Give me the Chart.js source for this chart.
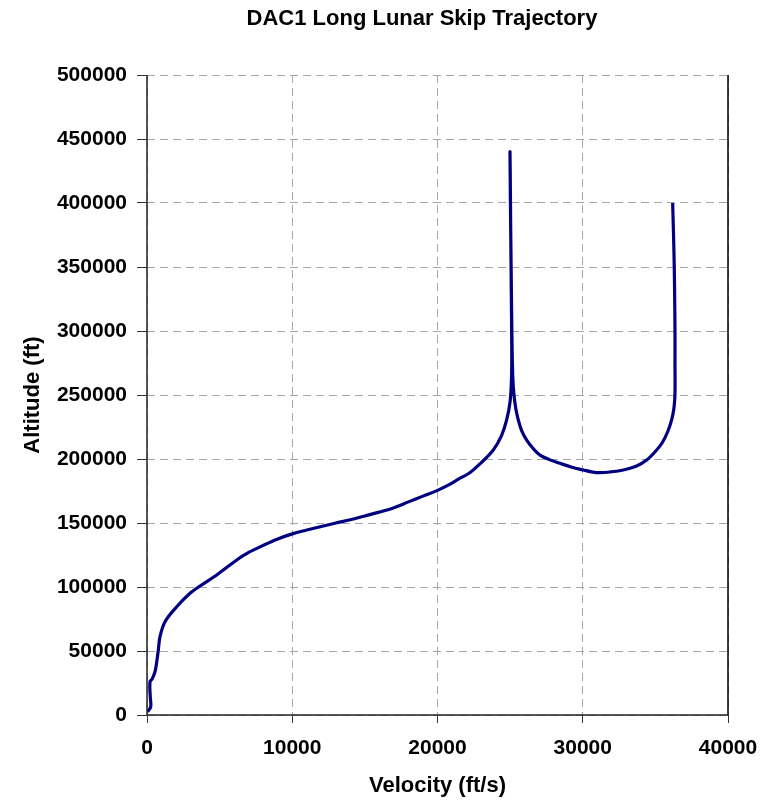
<!DOCTYPE html>
<html>
<head>
<meta charset="utf-8">
<title>DAC1 Long Lunar Skip Trajectory</title>
<script src="https://cdn.jsdelivr.net/npm/chart.js@4/dist/chart.umd.min.js"></script>
<style>
  html, body { margin: 0; padding: 0; background: #fff; }
  #wrap { width: 768px; height: 800px; position: relative; }
</style>
</head>
<body>
<div id="wrap"><canvas id="trajChart"></canvas></div>
<script>
// trajectory, entry (top right) to landing (origin)
const velocity = [
  36190, 36250, 36300, 36330, 36350, 36350, 36350, 36280, 36120, 35840,
  35460, 34970, 34400, 33710, 32790, 31900, 31190, 30600, 30040, 29200,
  28430, 27700, 27060, 26600, 26140, 25800, 25560, 25380, 25250, 25180,
  25120, 25070, 25020, 24990,
  25010, 25040, 25080, 25110, 25100, 25000, 24760, 24400, 23840, 23000,
  22200, 21550, 20800, 20000, 19000, 18000, 17000, 16000, 15000, 14000,
  13000, 12000, 11000, 10000, 9000, 8000, 7000, 6175, 4800, 3650,
  2960, 2045, 1240, 895, 780, 650, 550, 350, 207, 220,
  255, 40
];
const altitude = [
  400000, 375000, 350000, 325000, 300000, 275000, 251000, 239800, 230500, 221100,
  212500, 205500, 199200, 194500, 191400, 189900, 189300, 190000, 191400, 193800,
  196600, 199500, 203000, 208000, 214800, 222000, 230500, 240000, 252000, 265000,
  300000, 350000, 400000, 440000,
  420000, 380000, 330000, 290000, 265000, 245000, 230500, 218000, 207000, 197000,
  189000, 185000, 180000, 175500, 171000, 166500, 162000, 158500, 155500, 152500,
  150000, 147300, 144500, 141500, 137500, 132500, 127000, 121100, 109400, 100800,
  95100, 84600, 72900, 61200, 50800, 40000, 33800, 28000, 26000, 15000,
  6500, 2500
];

const chartTitle = "DAC1 Long Lunar Skip Trajectory";
const xTitle = "Velocity (ft/s)";
const yTitle = "Altitude (ft)";

const fontFamily = "'Liberation Sans', Arial, sans-serif";

// axis lines, the solid right edge of the plot and the title
const framePlugin = {
  id: "frame",
  afterDraw(chart) {
    const { ctx, chartArea } = chart;
    ctx.save();
    ctx.setLineDash([]);
    ctx.strokeStyle = "#222";
    ctx.lineWidth = 1.5;
    ctx.beginPath();
    ctx.moveTo(chartArea.left, chartArea.top);
    ctx.lineTo(chartArea.left, chartArea.bottom);
    ctx.lineTo(chartArea.right, chartArea.bottom);
    ctx.stroke();

    ctx.strokeStyle = "#000";
    ctx.beginPath();
    ctx.moveTo(chartArea.right, chartArea.top);
    ctx.lineTo(chartArea.right, chartArea.bottom);
    ctx.stroke();

    ctx.fillStyle = "#000";
    ctx.font = "bold 22px " + fontFamily;
    ctx.textAlign = "center";
    ctx.textBaseline = "middle";
    ctx.fillText(chartTitle, 422, 19);
    ctx.restore();
  },
};

const ctx = document.getElementById("trajChart").getContext("2d");
new Chart(ctx, {
  type: "scatter",
  data: {
    datasets: [
      {
        label: "Trajectory",
        data: velocity.map((v, i) => ({ x: v, y: altitude[i] })),
        showLine: true,
        borderColor: "#000080",
        borderWidth: 3.2,
        pointRadius: 0,
        tension: 0.35,
        fill: false,
      },
    ],
  },
  options: {
    responsive: true,
    maintainAspectRatio: false,
    animation: false,
    layout: { padding: { top: 75, right: 40, bottom: 0, left: 0 } },
    plugins: {
      legend: { display: false },
      tooltip: { enabled: false },
      title: { display: false },
    },
    scales: {
      x: {
        type: "linear",
        min: 0,
        max: 40000,
        afterFit: (scale) => {
          scale.height = 85;
          scale.paddingLeft = 0;
          scale.paddingRight = 0;
        },
        ticks: {
          stepSize: 10000,
          padding: 13,
          color: "#000",
          font: { family: fontFamily, size: 21, weight: "bold" },
          callback: (v) => String(v),
          maxRotation: 0,
        },
        grid: {
          color: "#a6a6a6",
          lineWidth: 1,
          tickLength: 8,
          tickColor: "#333",
          tickBorderDash: [],
        },
        border: { display: false, dash: [8, 5] },
        title: {
          display: true,
          text: xTitle,
          color: "#000",
          font: { family: fontFamily, size: 22, weight: "bold" },
          padding: { top: 0, bottom: 1 },
        },
      },
      y: {
        type: "linear",
        min: 0,
        max: 500000,
        afterFit: (scale) => { scale.width = 147; },
        ticks: {
          stepSize: 50000,
          padding: 10,
          color: "#000",
          font: { family: fontFamily, size: 21, weight: "bold" },
          callback: (v) => String(v),
        },
        grid: {
          color: "#a6a6a6",
          lineWidth: 1,
          tickLength: 10,
          tickColor: "#333",
          tickBorderDash: [],
        },
        border: { display: false, dash: [8, 5] },
        title: {
          display: true,
          text: yTitle,
          color: "#000",
          font: { family: fontFamily, size: 22, weight: "bold" },
          padding: { top: 20, bottom: 0 },
        },
      },
    },
  },
  plugins: [framePlugin],
});
</script>
</body>
</html>
